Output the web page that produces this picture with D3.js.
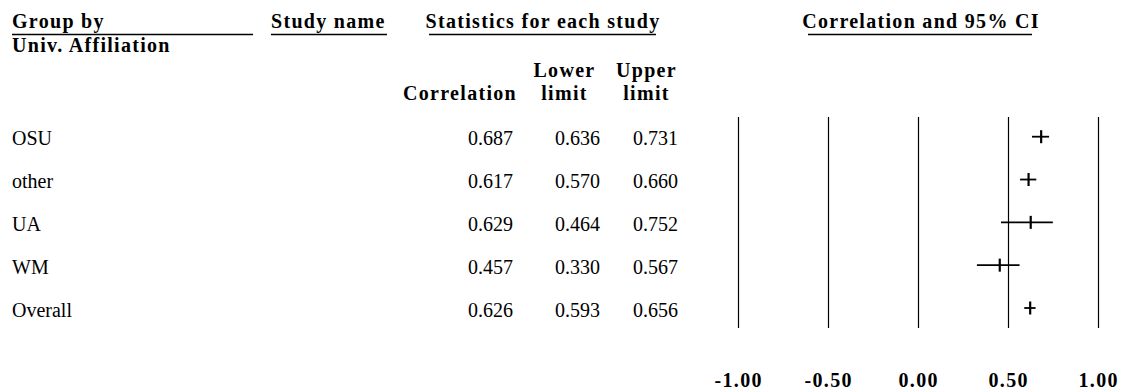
<!DOCTYPE html>
<html>
<head>
<meta charset="utf-8">
<script src="https://cdn.jsdelivr.net/npm/d3@7/dist/d3.min.js"></script>
<style>
  html, body { margin: 0; padding: 0; background: #fff; }
  svg { display: block; }
  .hdr { font-family: "Liberation Serif", "Times New Roman", serif; font-weight: bold; font-size: 20px; letter-spacing: 1.3px; fill: #000; }
  .cell { font-family: "Liberation Serif", "Times New Roman", serif; font-size: 20px; fill: #000; }
</style>
</head>
<body>
<svg id="chart" width="1122" height="389"></svg>
<script>
// Subgroup results: correlation with 95% confidence limits
const groups      = ["OSU", "other", "UA", "WM", "Overall"];
const correlation = [0.687, 0.617, 0.629, 0.457, 0.626];
const lowerLimit  = [0.636, 0.570, 0.464, 0.330, 0.593];
const upperLimit  = [0.731, 0.660, 0.752, 0.567, 0.656];
const tickValues  = [-1.00, -0.50, 0.00, 0.50, 1.00];

const svg = d3.select("#chart");
const fmt = d3.format(".3f");
// plain hyphen for negative tick labels
const tickFmt = v => (v < 0 ? "-" : "") + Math.abs(v).toFixed(2);

const x = d3.scaleLinear().domain([-1, 1]).range([737.5, 1097.5]);
const y = d3.scalePoint().domain(groups).range([136.7, 308]);

const rows = groups.map((g, i) => ({
  group: g, r: correlation[i], lo: lowerLimit[i], hi: upperLimit[i]
}));

// ---- column headings ----
const hdr = svg.append("g");
function heading(txt, xPos, yPos, anchor) {
  hdr.append("text").attr("class", "hdr")
    .attr("x", xPos).attr("y", yPos)
    .attr("text-anchor", anchor || "start")
    .text(txt);
}
function rule(x1, x2, yPos) {
  hdr.append("line")
    .attr("x1", x1).attr("x2", x2).attr("y1", yPos).attr("y2", yPos)
    .attr("stroke", "#000").attr("stroke-width", 1.4);
}
heading("Group by", 12, 28);
rule(12, 253, 34.5);
heading("Univ. Affiliation", 12, 52);
heading("Study name", 271, 28);
rule(271, 387, 34.5);
heading("Statistics for each study", 543, 28, "middle");
rule(429, 656, 34.5);
heading("Correlation and 95% CI", 921, 28, "middle");
rule(808, 1032, 34.5);

heading("Correlation", 517, 100, "end");
heading("Lower", 564.5, 77, "middle");
heading("limit", 564.5, 100, "middle");
heading("Upper", 646.5, 77, "middle");
heading("limit", 646.5, 100, "middle");

// ---- table cells ----
const cols = [
  { key: "r",  xEnd: 513 },
  { key: "lo", xEnd: 600 },
  { key: "hi", xEnd: 678 }
];
const rowG = svg.append("g").selectAll("g").data(rows).join("g")
  .attr("transform", d => `translate(0,${y(d.group) + 8.5})`);
rowG.append("text").attr("class", "cell").attr("x", 12).text(d => d.group);
cols.forEach(c => {
  rowG.append("text").attr("class", "cell")
    .attr("x", c.xEnd).attr("text-anchor", "end")
    .text(d => fmt(d[c.key]));
});

// ---- forest plot ----
const plot = svg.append("g");
plot.selectAll("line.grid").data(tickValues).join("line")
  .attr("class", "grid")
  .attr("x1", d => Math.round(x(d)) + 0.5).attr("x2", d => Math.round(x(d)) + 0.5)
  .attr("y1", 117).attr("y2", 328)
  .attr("stroke", "#000").attr("stroke-width", 1.2);

const marks = plot.selectAll("g.mark").data(rows).join("g").attr("class", "mark");
marks.append("line")
  .attr("x1", d => x(d.lo)).attr("x2", d => x(d.hi))
  .attr("y1", d => y(d.group)).attr("y2", d => y(d.group))
  .attr("stroke", "#000").attr("stroke-width", 1.8);
marks.append("line")
  .attr("x1", d => x(d.r)).attr("x2", d => x(d.r))
  .attr("y1", d => y(d.group) - 6.5).attr("y2", d => y(d.group) + 6.5)
  .attr("stroke", "#000").attr("stroke-width", 2.2);

// ---- axis labels ----
const axis = d3.axisBottom(x).tickValues(tickValues).tickFormat(tickFmt).tickSize(0).tickPadding(0);
const axG = svg.append("g").attr("transform", "translate(0,372)").call(axis);
axG.select(".domain").remove();
axG.attr("font-family", null).attr("font-size", null);
axG.selectAll("text")
  .attr("class", "hdr")
  .attr("dy", null).attr("y", 14.5)
  .attr("dx", "0.65px");
</script>
</body>
</html>
